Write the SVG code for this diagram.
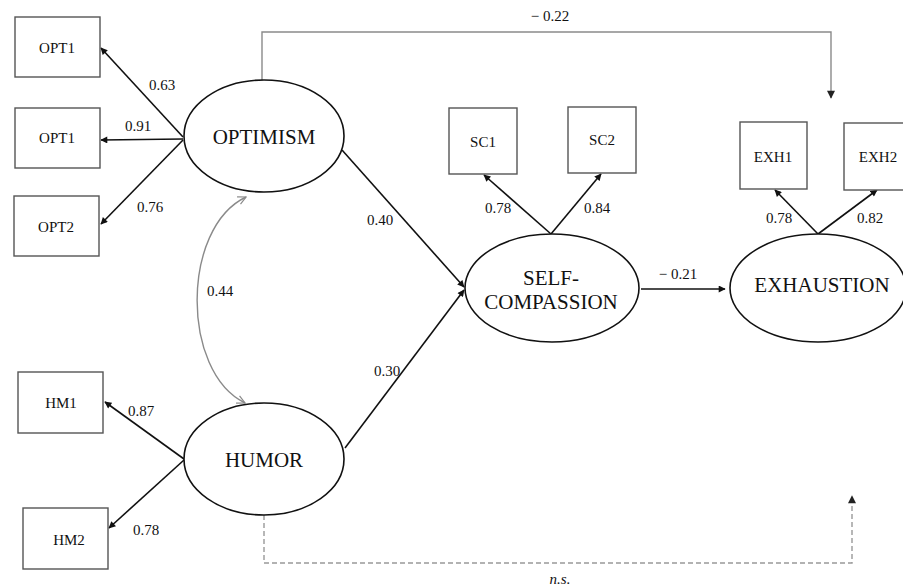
<svg xmlns="http://www.w3.org/2000/svg" width="903" height="586" viewBox="0 0 903 586">
<style>
text{font-family:'Liberation Serif','DejaVu Serif','Times New Roman',serif;fill:#111;text-anchor:middle}
.box{fill:#fff;stroke:#555;stroke-width:1.4}
.lat{fill:#fff;stroke:#111;stroke-width:1.6}
.bl{font-size:15px}
.ll{font-size:21px}
.cf{font-size:15px}
.ar{fill:none;stroke:#111;stroke-width:1.6}
.gr{fill:none;stroke:#8a8a8a;stroke-width:1.4}
.ds{fill:none;stroke:#999;stroke-width:1.4;stroke-dasharray:5 3}
</style>
<defs>
<marker id="ah" viewBox="0 0 10 10" refX="9" refY="5" markerWidth="8" markerHeight="7" markerUnits="userSpaceOnUse" orient="auto"><path d="M0,0 L10,5 L0,10 Z" fill="#111"/></marker>
<marker id="ahg" viewBox="0 0 10 10" refX="9" refY="5" markerWidth="9" markerHeight="8" markerUnits="userSpaceOnUse" orient="auto"><path d="M0,0 L10,5 L0,10 Z" fill="#222"/></marker>
<marker id="open" viewBox="0 0 10 10" refX="9" refY="5" markerWidth="10" markerHeight="10" markerUnits="userSpaceOnUse" orient="auto-start-reverse"><path d="M1,1 L9,5 L1,9" fill="none" stroke="#8a8a8a" stroke-width="1.2"/></marker>
</defs>
<g id="connectors">
<line class="ar" x1="183" y1="137" x2="101" y2="48" marker-end="url(#ah)"/>
<line class="ar" x1="183" y1="139" x2="101" y2="140" marker-end="url(#ah)"/>
<line class="ar" x1="183" y1="140" x2="101" y2="224" marker-end="url(#ah)"/>
<line class="ar" x1="184" y1="459" x2="105" y2="402" marker-end="url(#ah)"/>
<line class="ar" x1="184" y1="460" x2="109" y2="528" marker-end="url(#ah)"/>
<line class="ar" x1="342" y1="150" x2="464" y2="287" marker-end="url(#ah)"/>
<line class="ar" x1="345" y1="448" x2="464" y2="290" marker-end="url(#ah)"/>
<line class="ar" x1="551" y1="234" x2="484" y2="175" marker-end="url(#ah)"/>
<line class="ar" x1="551" y1="234" x2="601" y2="174" marker-end="url(#ah)"/>
<line class="ar" x1="818" y1="234" x2="775" y2="190" marker-end="url(#ah)"/>
<line class="ar" x1="818" y1="234" x2="877" y2="190" marker-end="url(#ah)"/>
<line class="ar" x1="641" y1="289" x2="725" y2="289" marker-end="url(#ah)"/>
<path class="gr" d="M262,80 V32 H831 V98" marker-end="url(#ahg)"/>
<path class="ds" d="M264,515 V563 H852 V496" marker-end="url(#ahg)"/>
<path class="gr" d="M246,197 C181,228 181,372 245,403" marker-start="url(#open)" marker-end="url(#open)"/>
<text class="cf" x="162" y="90">0.63</text>
<text class="cf" x="138" y="131">0.91</text>
<text class="cf" x="150" y="212">0.76</text>
<text class="cf" x="220" y="296">0.44</text>
<text class="cf" x="141" y="416">0.87</text>
<text class="cf" x="146" y="535">0.78</text>
<text class="cf" x="380" y="225">0.40</text>
<text class="cf" x="387" y="376">0.30</text>
<text class="cf" x="498" y="213">0.78</text>
<text class="cf" x="597" y="213">0.84</text>
<text class="cf" x="779" y="223">0.78</text>
<text class="cf" x="870" y="223">0.82</text>
<text class="cf" x="678" y="279">− 0.21</text>
<text class="cf" x="550" y="21">− 0.22</text>
<text class="cf" x="560" y="584" font-style="italic">n.s.</text>
</g>
<g id="OPT1a"><rect class="box" x="15" y="17" width="85" height="60"/><text class="bl" x="57" y="53">OPT1</text></g>
<g id="OPT1b"><rect class="box" x="15" y="108" width="85" height="60"/><text class="bl" x="57" y="143">OPT1</text></g>
<g id="OPT2"><rect class="box" x="14" y="196" width="85" height="60"/><text class="bl" x="56" y="232">OPT2</text></g>
<g id="HM1"><rect class="box" x="18" y="372" width="85" height="61"/><text class="bl" x="61" y="408">HM1</text></g>
<g id="HM2"><rect class="box" x="23" y="508" width="85" height="61"/><text class="bl" x="69" y="545">HM2</text></g>
<g id="SC1"><rect class="box" x="449" y="108" width="68" height="66"/><text class="bl" x="483" y="147">SC1</text></g>
<g id="SC2"><rect class="box" x="568" y="107" width="68" height="66"/><text class="bl" x="602" y="145">SC2</text></g>
<g id="EXH1"><rect class="box" x="740" y="122" width="67" height="67"/><text class="bl" x="773" y="162">EXH1</text></g>
<g id="EXH2"><rect class="box" x="844" y="123" width="68" height="67"/><text class="bl" x="878" y="162">EXH2</text></g>
<g id="OPTIMISM"><ellipse class="lat" cx="264" cy="136" rx="80" ry="56"/><text class="ll" x="264" y="144">OPTIMISM</text></g>
<g id="HUMOR"><ellipse class="lat" cx="264" cy="459" rx="80" ry="56"/><text class="ll" x="264" y="467">HUMOR</text></g>
<g id="SELF-COMPASSION"><ellipse class="lat" cx="552" cy="288" rx="87" ry="54"/><text class="ll" x="551" y="285">SELF-</text><text class="ll" x="551" y="309">COMPASSION</text></g>
<g id="EXHAUSTION"><ellipse class="lat" cx="818" cy="288" rx="88" ry="54"/><text class="ll" x="822" y="292">EXHAUSTION</text></g>
</svg>
